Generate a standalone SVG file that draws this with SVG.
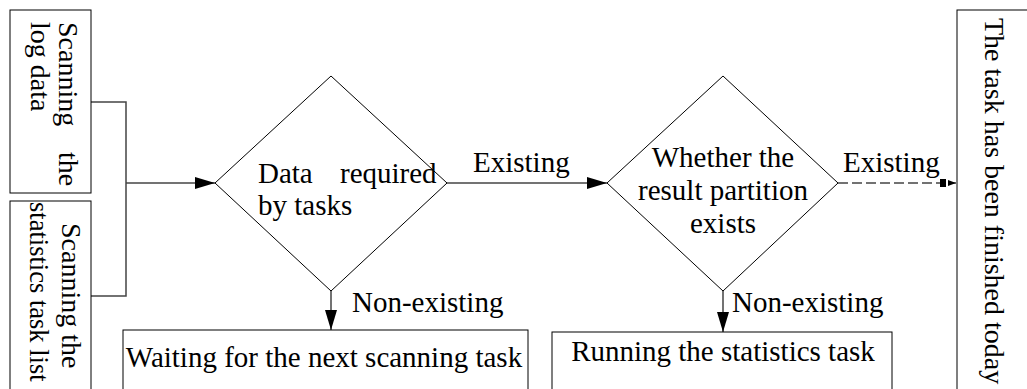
<svg xmlns="http://www.w3.org/2000/svg" width="1027" height="389" viewBox="0 0 1027 389">
<style>
.box{fill:#fff;stroke:#000;stroke-width:1}
.dia{fill:#fff;stroke:#000;stroke-width:1}
.t{font-family:"Liberation Serif","Times New Roman",serif;font-size:29px;fill:#000}
.v{font-family:"Liberation Serif","Times New Roman",serif;font-size:28px;fill:#000}
.c{fill:none;stroke:#444;stroke-width:1.5}
.d{fill:none;stroke:#444;stroke-width:1.5;stroke-dasharray:10 4}
</style>
<defs>
<marker id="ah" markerUnits="userSpaceOnUse" markerWidth="20" markerHeight="12" refX="20" refY="6" orient="auto">
<path d="M0,0 L20,6 L0,12 z" fill="#000"/>
</marker>
<marker id="ah2" markerUnits="userSpaceOnUse" markerWidth="16" markerHeight="10" refX="16" refY="5" orient="auto">
<path d="M0,1 L6,1 L6,9 L0,9 z M8,2 L16,5 L8,8 z" fill="#000"/>
</marker>
</defs>
<rect width="1027" height="389" fill="#fff"/>
<g id="connectors">
<polyline class="c" points="91,102 126,102 126,296 91,296"/>
<line class="c" x1="126" y1="183" x2="215" y2="183" marker-end="url(#ah)"/>
<line class="c" x1="447" y1="183" x2="607" y2="183" marker-end="url(#ah)"/>
<line class="d" x1="838" y1="183" x2="956" y2="183" marker-end="url(#ah2)"/>
<line class="c" x1="331" y1="291" x2="331" y2="330" marker-end="url(#ah)"/>
<line class="c" x1="723" y1="291" x2="723" y2="332" marker-end="url(#ah)"/>
<text class="t" x="473" y="172">Existing</text>
<text class="t" x="843" y="172">Existing</text>
<text class="t" x="352" y="312">Non-existing</text>
<text class="t" x="732" y="312">Non-existing</text>
</g>
<g id="scan-log">
<rect class="box" x="10" y="10" width="81" height="183"/>
<g transform="translate(59,22) rotate(90)">
<text class="v" x="0" y="0">Scanning<tspan x="130">the</tspan></text>
<text class="v" x="0" y="28">log data</text>
</g>
</g>
<g id="scan-list">
<rect class="box" x="10" y="201" width="81" height="200"/>
<g transform="translate(62,223) rotate(90)">
<text class="v" x="0" y="0">Scanning the</text>
</g>
<g transform="translate(30,202) rotate(90)">
<text class="v" x="0" y="0" style="font-size:26.5px">statistics task list</text>
</g>
</g>
<g id="data-required">
<polygon class="dia" points="331,76 447,183 331,291 215,183"/>
<text class="t" x="258" y="183">Data<tspan x="340">required</tspan></text>
<text class="t" x="258" y="215">by tasks</text>
</g>
<g id="partition-exists">
<polygon class="dia" points="723,76 838,183 723,291 607,183"/>
<text class="t" x="723" y="167" text-anchor="middle">Whether the</text>
<text class="t" x="723" y="200" text-anchor="middle">result partition</text>
<text class="t" x="723" y="233" text-anchor="middle">exists</text>
</g>
<g id="waiting">
<rect class="box" x="123" y="330" width="405" height="70"/>
<text class="t" x="324" y="367" text-anchor="middle">Waiting for the next scanning task</text>
</g>
<g id="running">
<rect class="box" x="552" y="332" width="340" height="70"/>
<text class="t" x="723" y="361" text-anchor="middle">Running the statistics task</text>
</g>
<g id="finished">
<rect class="box" x="957" y="10" width="90" height="390"/>
<g transform="translate(985,18) rotate(90)">
<text class="v" x="0" y="0">The task has been finished today</text>
</g>
</g>
</svg>
